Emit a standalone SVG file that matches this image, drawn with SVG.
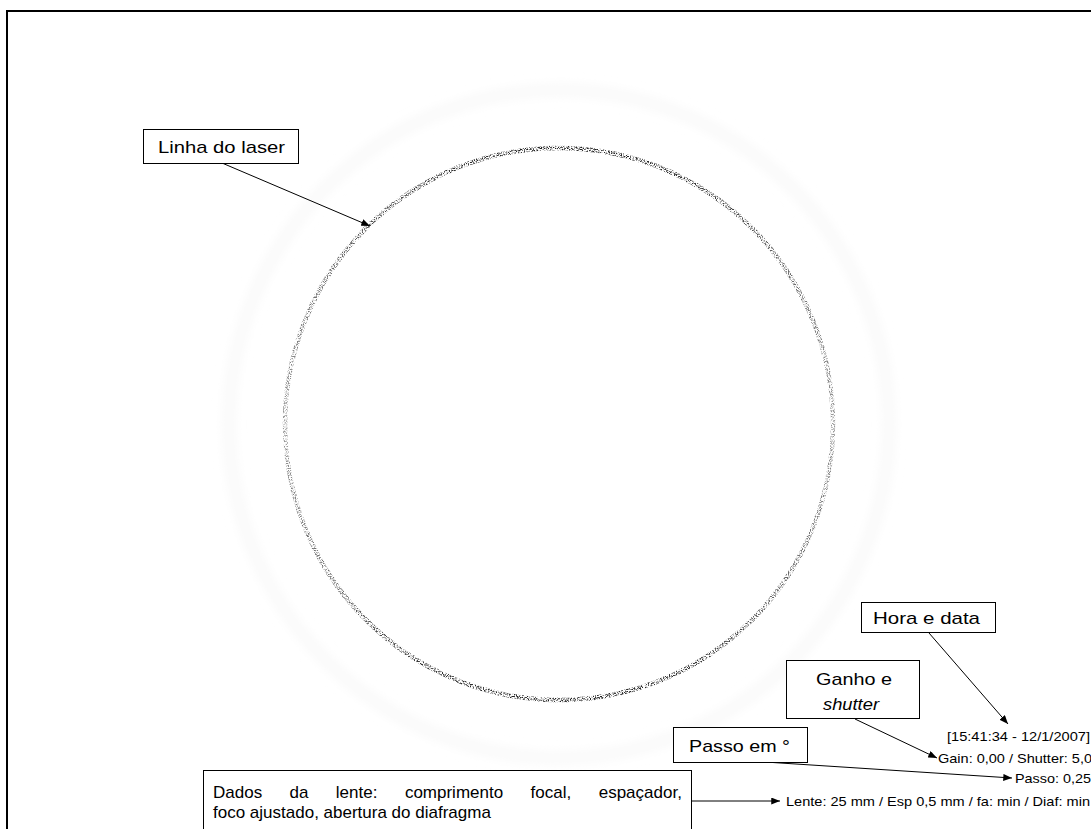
<svg xmlns="http://www.w3.org/2000/svg" width="1091" height="829" viewBox="0 0 1091 829">
<style>
.lbl{font-family:"Liberation Sans",Arial,sans-serif;font-size:17px;fill:#000}
.dat{font-family:"Liberation Sans",Arial,sans-serif;font-size:13px;fill:#000}
.box{fill:#fff;stroke:#000;stroke-width:1}
.con{stroke:#000;stroke-width:1;fill:none}
</style>
<defs>
<marker id="ah" viewBox="0 0 10 8" refX="10" refY="4" markerWidth="9" markerHeight="7" markerUnits="userSpaceOnUse" orient="auto">
<path d="M0,0 L10,4 L0,8 z" fill="#000"/>
</marker>
<linearGradient id="rg" gradientUnits="userSpaceOnUse" x1="0" y1="148" x2="0" y2="700">
<stop offset="0" stop-color="#222"/>
<stop offset="0.2" stop-color="#666"/>
<stop offset="0.5" stop-color="#999"/>
<stop offset="0.8" stop-color="#666"/>
<stop offset="1" stop-color="#222"/>
</linearGradient>
<filter id="grain" x="-5%" y="-5%" width="110%" height="110%">
<feTurbulence type="fractalNoise" baseFrequency="0.85" numOctaves="2" seed="7" result="n"/>
<feColorMatrix in="n" type="matrix" values="0 0 0 0 0  0 0 0 0 0  0 0 0 0 0  0 0 0 4 -1.75" result="a"/>
<feComposite in="SourceGraphic" in2="a" operator="in" result="g"/>
<feGaussianBlur in="g" stdDeviation="0.4"/>
</filter>
<filter id="haze" x="-10%" y="-10%" width="120%" height="120%"><feGaussianBlur stdDeviation="5"/></filter>
</defs>
<rect x="0" y="0" width="1091" height="829" fill="#fff"/>
<rect x="7" y="11" width="1200" height="900" fill="none" stroke="#000" stroke-width="2"/>
<g id="ring">
<ellipse cx="559" cy="424" rx="330" ry="334" fill="none" stroke="#fafafa" stroke-width="14" filter="url(#haze)"/>
<g filter="url(#grain)">
<ellipse cx="559" cy="424" rx="274" ry="276" fill="none" stroke="url(#rg)" stroke-width="4.5"/>
<ellipse cx="559" cy="424" rx="274" ry="276" fill="none" stroke="url(#rg)" stroke-width="1.8"/>
</g>
</g>
<g id="connectors">
<line class="con" x1="222" y1="163" x2="370" y2="226" marker-end="url(#ah)"/>
<line class="con" x1="929" y1="633" x2="1008" y2="724" marker-end="url(#ah)"/>
<line class="con" x1="855" y1="719" x2="937" y2="758" marker-end="url(#ah)"/>
<line class="con" x1="765" y1="762" x2="1012" y2="778" marker-end="url(#ah)"/>
<line class="con" x1="691" y1="801" x2="780" y2="801" marker-end="url(#ah)" stroke-width="1.4"/>
</g>
<g id="n-linha">
<rect class="box" x="143.5" y="129.5" width="155" height="34"/>
<text class="lbl" x="158" y="153" textLength="127" lengthAdjust="spacingAndGlyphs">Linha do laser</text>
</g>
<g id="n-hora">
<rect class="box" x="861.5" y="602.5" width="134" height="30"/>
<text class="lbl" x="873" y="624" textLength="107" lengthAdjust="spacingAndGlyphs">Hora e data</text>
</g>
<g id="n-ganho">
<rect class="box" x="786.5" y="660.5" width="133" height="58"/>
<text class="lbl" x="816" y="685" textLength="76" lengthAdjust="spacingAndGlyphs">Ganho e</text>
<text class="lbl" x="823" y="710" textLength="56" lengthAdjust="spacingAndGlyphs" font-style="italic">shutter</text>
</g>
<g id="n-passo">
<rect class="box" x="673.5" y="727.5" width="134" height="35"/>
<text class="lbl" x="689" y="752" textLength="101" lengthAdjust="spacingAndGlyphs">Passo em °</text>
</g>
<g id="n-dados">
<rect class="box" x="203.5" y="770.5" width="488" height="80"/>
<text class="lbl" y="798">
<tspan x="213">Dados</tspan>
<tspan x="289.5">da</tspan>
<tspan x="335.8">lente:</tspan>
<tspan x="404.9">comprimento</tspan>
<tspan x="530.6">focal,</tspan>
<tspan x="598.7">espaçador,</tspan>
</text>
<text class="lbl" x="213" y="818">foco ajustado, abertura do diafragma</text>
</g>
<g id="data-texts">
<text class="dat" x="947" y="741" textLength="143" lengthAdjust="spacingAndGlyphs">[15:41:34 - 12/1/2007]</text>
<text class="dat" x="938" y="763" textLength="154" lengthAdjust="spacingAndGlyphs">Gain: 0,00 / Shutter: 5,0</text>
<text class="dat" x="1015" y="783" textLength="76" lengthAdjust="spacingAndGlyphs">Passo: 0,25</text>
<text class="dat" x="786" y="806" textLength="304" lengthAdjust="spacingAndGlyphs">Lente: 25 mm / Esp 0,5 mm / fa: min / Diaf: min</text>
</g>
</svg>
